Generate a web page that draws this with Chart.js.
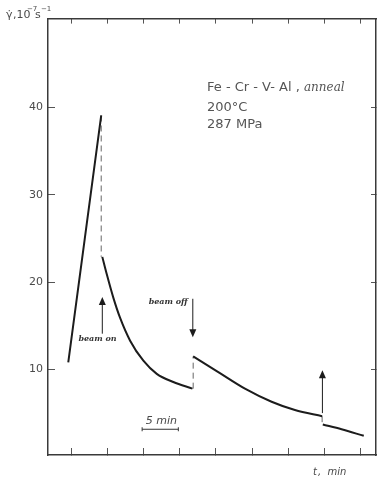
<!DOCTYPE html>
<html>
<head>
<meta charset="utf-8">
<script src="https://cdn.jsdelivr.net/npm/chart.js@4.4.1/dist/chart.umd.min.js"></script>
<style>
  html, body { margin: 0; padding: 0; background: #fff; }
  #wrap { width: 379px; height: 482px; }
</style>
</head>
<body>
<div id="wrap"><canvas id="creepChart" width="379" height="482"></canvas></div>
<script>
// time in minutes, creep rate in 10^-7 s^-1
const rampTime = [-0.4, 4.15];
const rampRate = [10.8, 39.1];

const onTime = [4.3, 4.92, 5.83, 6.76, 8.14, 9.97, 11.82, 14.11, 16.75];
const onRate = [22.9, 20.9, 18.2, 15.9, 13.3, 11.0, 9.5, 8.56, 7.8];

const offTime = [16.85, 20.32, 24.0, 27.68, 30.9, 34.66];
const offRate = [11.5, 9.7, 7.8, 6.3, 5.35, 4.65];

const onAgainTime = [34.75, 37.34, 40.41];
const onAgainRate = [3.7, 3.15, 2.4];

const xTicks = [0, 5, 10, 15, 20, 25, 30, 35, 40];
const yTicks = [10, 20, 30, 40];

const ink = '#1c1c1c';
const axisInk = '#3a3a3a';
const textInk = '#4a4a4a';

const pts = (t, r) => t.map((v, i) => ({ x: v, y: r[i] }));
const last = a => a[a.length - 1];

// vertical dashed jumps between one segment's end and the next segment's start
const jumps = [
  pts([rampTime[1], rampTime[1]], [last(rampRate), onRate[0]]),
  pts([offTime[0], offTime[0]], [last(onRate), offRate[0]]),
  pts([last(offTime), last(offTime)], [last(offRate), onAgainRate[0]])
];

const solid = (data) => ({
  data, showLine: true, borderColor: ink, borderWidth: 2, pointRadius: 0,
  cubicInterpolationMode: 'monotone', fill: false
});
const dashed = (data) => ({
  data, showLine: true, borderColor: '#666', borderWidth: 1, borderDash: [6, 4],
  pointRadius: 0, fill: false
});

// annotations in data units
const arrows = [
  { t: 4.3, from: 14.1, to: 18.3 },
  { t: 16.8, from: 18.1, to: 13.7 },
  { t: 34.7, from: 5.0, to: 9.9 }
];

const tickSet = (list) => (s) => { s.ticks = list.map(v => ({ value: v })); };

const gridOpts = { drawOnChartArea: false, drawTicks: true, tickLength: -7, color: '#555', lineWidth: 1 };
const borderOpts = { display: true, color: axisInk, width: 1.5 };

const notes = {
  id: 'notes',
  afterDatasetsDraw(chart) {
    const ctx = chart.ctx;
    const xs = chart.scales.x, ys = chart.scales.y;
    const px = v => xs.getPixelForValue(v);
    const py = v => ys.getPixelForValue(v);
    ctx.save();

    // arrows
    ctx.strokeStyle = ink;
    ctx.fillStyle = ink;
    ctx.lineWidth = 1;
    arrows.forEach(a => {
      const x = px(a.t), y0 = py(a.from), y1 = py(a.to);
      const dir = y1 < y0 ? 1 : -1;
      ctx.beginPath();
      ctx.moveTo(x, y0);
      ctx.lineTo(x, y1 + dir * 6);
      ctx.stroke();
      ctx.beginPath();
      ctx.moveTo(x, y1);
      ctx.lineTo(x - 3.5, y1 + dir * 8);
      ctx.lineTo(x + 3.5, y1 + dir * 8);
      ctx.closePath();
      ctx.fill();
    });

    // 5 min scale bar
    const bx0 = px(9.8), bx1 = px(14.8), by = py(3.15);
    ctx.strokeStyle = '#333';
    ctx.beginPath();
    ctx.moveTo(bx0, by); ctx.lineTo(bx1, by);
    ctx.moveTo(bx0, by - 2); ctx.lineTo(bx0, by + 2);
    ctx.moveTo(bx1, by - 2); ctx.lineTo(bx1, by + 2);
    ctx.stroke();

    ctx.fillStyle = textInk;
    ctx.textBaseline = 'alphabetic';
    ctx.textAlign = 'left';
    ctx.font = 'italic 11px "DejaVu Sans"';
    ctx.fillText('5 min', px(10.3), py(3.15) - 5);

    ctx.fillStyle = '#333';
    ctx.font = 'italic bold 8px "DejaVu Serif"';
    ctx.fillText('beam on', px(1.0), py(13.3));
    ctx.fillText('beam off', px(10.7), py(17.5));

    // sample info
    ctx.font = '13px "DejaVu Sans"';
    ctx.fillStyle = '#555';
    const first = 'Fe - Cr - V- Al , ';
    ctx.fillText(first, 207, 91);
    const w = ctx.measureText(first).width;
    ctx.font = 'italic 12px "DejaVu Serif"';
    ctx.fillText('anneal', 207 + w, 91);
    ctx.font = '13px "DejaVu Sans"';
    ctx.fillText('200°C', 207, 111);
    ctx.fillText('287 MPa', 207, 128);

    // axis titles
    ctx.fillStyle = textInk;
    ctx.font = '11px "DejaVu Sans"';
    ctx.fillText('γ̇', 6, 18);
    ctx.fillText(',10', 13, 18);
    ctx.font = '7px "DejaVu Sans"';
    ctx.fillText('\u22127', 27, 11);
    ctx.font = '11px "DejaVu Sans"';
    ctx.fillText('s', 35, 18);
    ctx.font = '7px "DejaVu Sans"';
    ctx.fillText('\u22121', 41, 11);

    ctx.font = 'italic 10px "DejaVu Sans"';
    ctx.fillText('t', 313, 475);
    ctx.fillText(',  min', 318, 475);
    ctx.restore();
  }
};

new Chart(document.getElementById('creepChart'), {
  type: 'scatter',
  data: {
    datasets: [
      solid(pts(rampTime, rampRate)),
      solid(pts(onTime, onRate)),
      solid(pts(offTime, offRate)),
      solid(pts(onAgainTime, onAgainRate)),
      ...jumps.map(dashed)
    ]
  },
  options: {
    responsive: false,
    animation: false,
    layout: { padding: 0 },
    plugins: { legend: { display: false }, tooltip: { enabled: false } },
    scales: {
      x: {
        type: 'linear', position: 'bottom', min: -3.2, max: 42.1,
        afterBuildTicks: tickSet(xTicks),
        ticks: { display: false },
        grid: gridOpts, border: borderOpts,
        afterFit: s => { s.height = 27; }
      },
      x2: {
        type: 'linear', axis: 'x', position: 'top', min: -3.2, max: 42.1,
        afterBuildTicks: tickSet(xTicks),
        ticks: { display: false },
        grid: { ...gridOpts, tickLength: -5 }, border: borderOpts,
        afterFit: s => { s.height = 15; }
      },
      y: {
        type: 'linear', position: 'left', min: 0.2, max: 50.2,
        afterBuildTicks: tickSet(yTicks),
        ticks: { color: textInk, font: { family: 'DejaVu Sans', size: 11 }, padding: 12 },
        grid: gridOpts, border: borderOpts,
        afterFit: s => { s.width = 48; }
      },
      y2: {
        type: 'linear', axis: 'y', position: 'right', min: 0.2, max: 50.2,
        afterBuildTicks: tickSet(yTicks),
        ticks: { display: false },
        grid: { ...gridOpts, tickLength: -5 }, border: borderOpts,
        afterFit: s => { s.width = 3; }
      }
    }
  },
  plugins: [notes]
});
</script>
</body>
</html>
